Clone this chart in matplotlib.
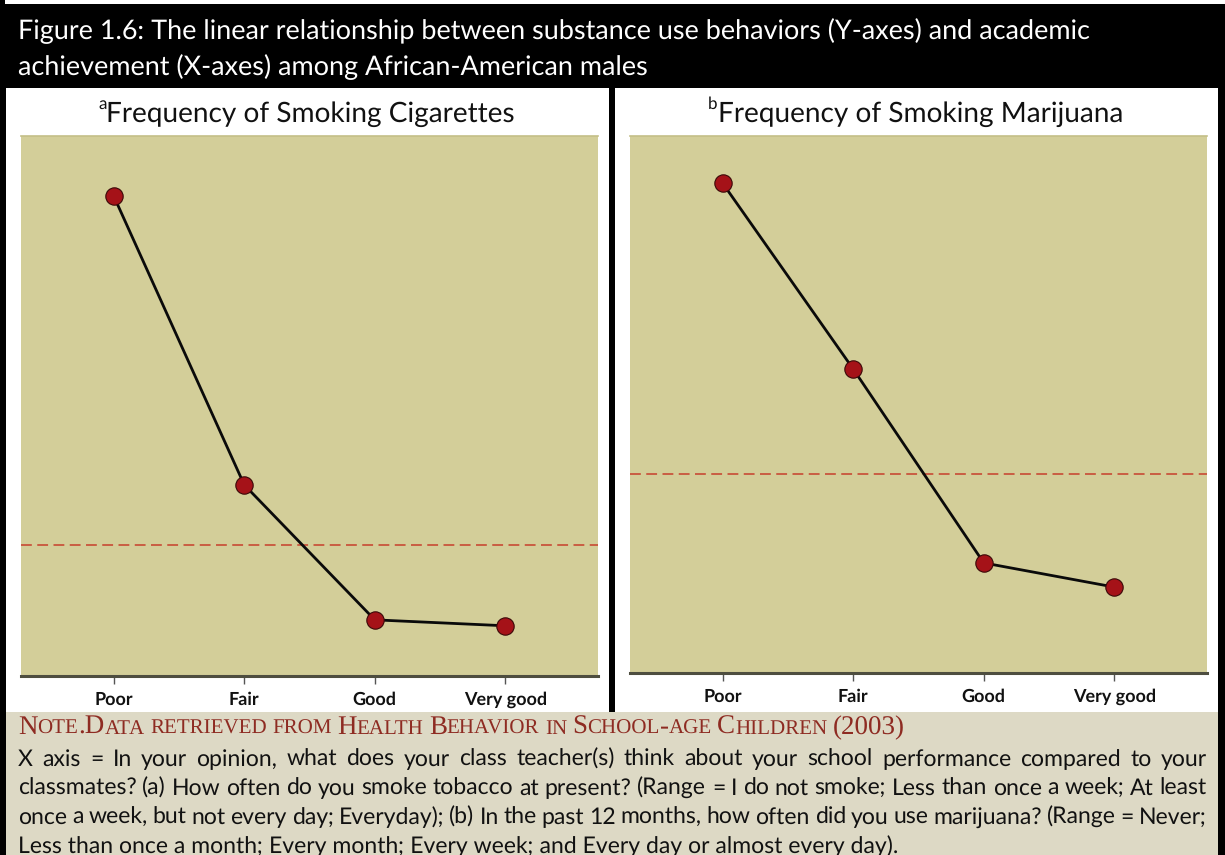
import matplotlib
matplotlib.use('Agg')
import matplotlib.pyplot as plt
from matplotlib.patches import Rectangle

plt.rcParams['text.hinting'] = 'no_hinting'
plt.rcParams['text.hinting_factor'] = 1

# ---------------- data ----------------
categories = ["Poor", "Fair", "Good", "Very good"]
cig_values = [88.9, 35.4, 10.4, 9.3]
cig_reference = 24.3
mar_values = [91.2, 56.6, 20.5, 16.0]
mar_reference = 37.1

title_lines = [
    "Figure 1.6: The linear relationship between substance use behaviors (Y-axes) and academic",
    "achievement (X-axes) among African-American males",
]
panel_letters = ["a", "b"]
panel_titles = ["Frequency of Smoking Cigarettes", "Frequency of Smoking Marijuana"]
note_header = "Note.Data retrieved from Health Behavior in School-age Children (2003)"
note_lines = [
    "X axis = In your opinion, what does your class teacher(s) think about your school performance compared to your",
    "classmates? (a) How often do you smoke tobacco at present? (Range = I do not smoke; Less than once a week; At least",
    "once a week, but not every day; Everyday); (b) In the past 12 months, how often did you use marijuana? (Range = Never;",
    "Less than once a month; Every month; Every week; and Every day or almost every day).",
]

# ---------------- figure ----------------
W, H = 1225, 855
fig = plt.figure(figsize=(W / 100, H / 100), dpi=100, facecolor='black')
bg = fig.add_axes([0, 0, 1, 1])
bg.set_xlim(0, W)
bg.set_ylim(H, 0)
bg.axis('off')
r = fig.canvas.get_renderer()

def tw(s, **kw):
    t = bg.text(0, 0, s, **kw)
    w = t.get_window_extent(r).width
    t.remove()
    return w

# panels
bg.add_patch(Rectangle((5, 0), W - 5, 4, color='white', lw=0))
bg.add_patch(Rectangle((6, 88), 603, 624, color='white', lw=0))
bg.add_patch(Rectangle((615, 88), 603, 624, color='white', lw=0))
bg.add_patch(Rectangle((6, 712), 1212, 143, color='#DDD9C5', lw=0))

# title
tfont = dict(family='Lato', color='white')
base = 20
w1 = tw(title_lines[0], fontsize=base, **tfont)
tsize = base * 1090 / w1
bg.text(18, 39, title_lines[0], fontsize=tsize, va='baseline', ha='left', **tfont)
bg.text(18, 75, title_lines[1], fontsize=tsize, va='baseline', ha='left', **tfont)

# plot axes
tan = '#D3CE99'
axes_rects = [
    (21, 136, 598, 676),
    (630, 136, 1207, 673),
]
series = [(cig_values, cig_reference), (mar_values, mar_reference)]
for i, ((x0, y0, x1, y1), (vals, ref)) in enumerate(zip(axes_rects, series)):
    ax = fig.add_axes([x0 / W, (H - y1) / H, (x1 - x0) / W, (y1 - y0) / H])
    ax.set_facecolor(tan)
    xs = list(range(len(categories)))
    ax.axhline(ref, color='#C8553D', lw=1.3, dashes=(6, 3), zorder=2)
    ax.plot(xs, vals, color='#0A0A0A', lw=2.0, zorder=3)
    ax.plot(xs, vals, ls='none', marker='o', ms=12.5, mfc='#A51218', mec='#3A0808',
            mew=0.8, zorder=4)
    ax.set_xlim(-0.71, 3.71)
    ax.set_ylim(0, 100)
    ax.set_yticks([])
    ax.set_xticks(xs)
    ax.set_xticklabels(categories, fontfamily='Lato', fontweight='bold', fontsize=13.3,
                       color='#111111')
    for lab in ax.get_xticklabels():
        lab.set_verticalalignment('baseline')
    ax.tick_params(axis='x', length=6, width=1, color='#555555', pad=14.5)
    for s in ['left', 'right']:
        ax.spines[s].set_visible(False)
    ax.spines['top'].set_color('#C4BF88')
    ax.spines['top'].set_linewidth(1.2)
    ax.spines['bottom'].set_color('#4E4E40')
    ax.spines['bottom'].set_linewidth(2.2)

    # panel title
    cx = (x0 + x1) / 2
    pfont = dict(family='Lato', color='#111111')
    psz = 20
    ptw = tw(panel_titles[i], fontsize=psz, **pfont)
    lw_ = tw(panel_letters[i], fontsize=12, **pfont)
    left = cx - (ptw + lw_) / 2 - 3
    bg.text(left, 109, panel_letters[i], fontsize=12, ha='left', va='baseline', **pfont)
    bg.text(left + lw_, 122, panel_titles[i], fontsize=psz, ha='left', va='baseline', **pfont)

# note header in small caps
hfont = dict(family='Liberation Serif', color='#8E2B22')
big, small = 19.4, 14.9
x = 18
yb = 734
space_w = tw("N N", fontsize=big, **hfont) - tw("NN", fontsize=big, **hfont)
for wi, word in enumerate(note_header.split(' ')):
    runs = []
    for ch in word:
        is_small = ch.islower()
        c = ch.upper()
        if runs and runs[-1][1] == is_small:
            runs[-1][0] += c
        else:
            runs.append([c, is_small])
    for txt, is_small in runs:
        fs = small if is_small else big
        bg.text(x, yb, txt, fontsize=fs, ha='left', va='baseline', **hfont)
        x += tw(txt, fontsize=fs, **hfont)
    x += space_w * 0.8

# note body, justified
nfont = dict(family='Lato', color='#111111')
nb = 14
wl = tw(note_lines[3], fontsize=nb, **nfont)
nsize = nb * 855 / wl
baselines = [766, 795, 824, 853]
for li, line in enumerate(note_lines):
    if li < 3:
        words = line.split(' ')
        widths = [tw(wd, fontsize=nsize, **nfont) for wd in words]
        gap = (1207 - 18 - sum(widths)) / (len(words) - 1)
        xx = 18
        for wd, wdw in zip(words, widths):
            bg.text(xx, baselines[li], wd, fontsize=nsize, ha='left', va='baseline', **nfont)
            xx += wdw + gap
    else:
        bg.text(18, baselines[li], line, fontsize=nsize, ha='left', va='baseline', **nfont)

fig.savefig('out.png', dpi=100, facecolor='black')
